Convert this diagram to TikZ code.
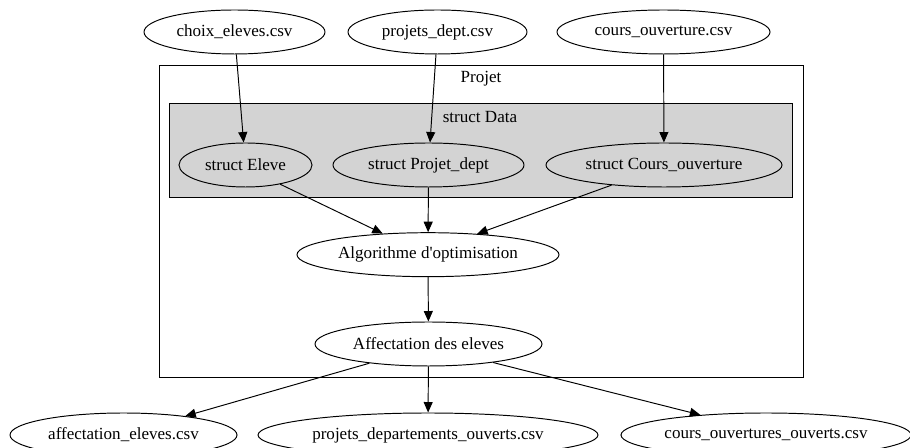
\documentclass[tikz,border=0pt]{standalone}
\usepackage{fontspec}
\setmainfont{Liberation Serif}
\usetikzlibrary{math, shapes.geometric, arrows.meta}

\definecolor{datagray}{RGB}{211,211,211}

\tikzset{
    file/.style={ellipse, draw, fill=white, inner sep=0pt,
        minimum width={#1*0.02cm}, minimum height=0.88cm},
}

\begin{document}
\begin{tikzpicture}[line width=0.55pt, x=0.02cm, y=-0.02cm,
    >={Triangle[length=0.21cm, width=0.18cm]},
    font=\fontsize{9.7}{11.5}\selectfont]
    \tikzmath{
        \rowin=32;
        \rowdata=165;
        \rowalgo=254.7;
        \rowaff=344;
        \rowout=435;
    }

    \clip (0, 0) rectangle (910, 448);

    % clusters
    \draw (159, 65) rectangle (803, 377);
    \node (projet) at (481, 79) {Projet};
    \draw [fill=datagray] (169, 103) rectangle (792, 197);
    \node (data) at (480, 117) {struct Data};

    % inputs
    \node [file=181] (choix) at (234.5, \rowin) {choix\_eleves.csv};
    \node [file=179] (projcsv) at (437.5, \rowin) {projets\_dept.csv};
    \node [file=213] (courscsv) at (663.5, \rowin) {cours\_ouverture.csv};

    % structs
    \node [file=133, fill=datagray] (eleve) at (245.5, \rowdata) {struct Eleve};
    \node [file=191, fill=datagray] (projdept) at (428.5, \rowdata) {struct Projet\_dept};
    \node [file=236, fill=datagray] (cours) at (664, \rowdata) {struct Cours\_ouverture};

    % algo
    \node [file=262] (algo) at (428, \rowalgo) {Algorithme d\textquotesingle optimisation};
    \node [file=227] (aff) at (428.5, \rowaff) {Affectation des eleves};

    % outputs
    \node [file=227] (affcsv) at (123.5, \rowout) {affectation\_eleves.csv};
    \node [file=340] (projouv) at (428, \rowout) {projets\_departements\_ouverts.csv};
    \node [file=290] (coursouv) at (766, \rowout) {cours\_ouvertures\_ouverts.csv};

    \draw [->] (choix) -- (eleve);
    \draw [->] (projcsv) -- (projdept);
    \draw [->] (courscsv) -- (cours);

    \draw [->] (eleve.-29) -- (algo.155);
    \draw [->] (projdept) -- (algo);
    \draw [->] (cours.201) -- (algo.23);

    \draw [->] (algo) -- (aff);

    \draw [->] (aff.198) -- (affcsv.17);
    \draw [->] (aff) -- (projouv);
    \draw [->] (aff.-16) -- (coursouv.163);
\end{tikzpicture}
\end{document}
